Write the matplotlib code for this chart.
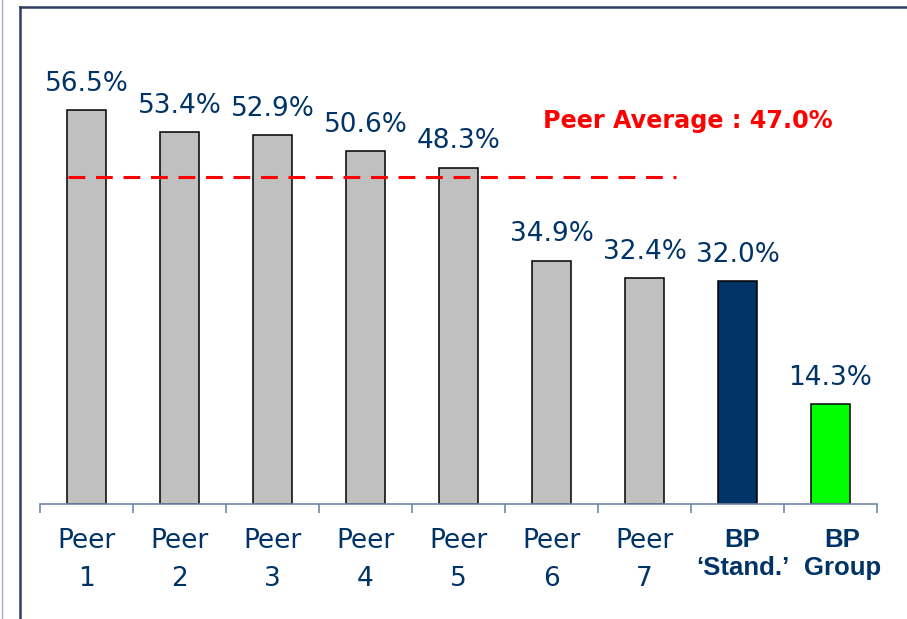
import matplotlib
matplotlib.use("Agg")
import matplotlib.pyplot as plt
from matplotlib.lines import Line2D
from matplotlib.transforms import ScaledTranslation

# data
categories = ["Peer\n1", "Peer\n2", "Peer\n3", "Peer\n4", "Peer\n5",
              "Peer\n6", "Peer\n7", "BP\n\u2018Stand.\u2019", "BP\nGroup"]
values = [56.5, 53.4, 52.9, 50.6, 48.3, 34.9, 32.4, 32.0, 14.3]
bar_colors = ["#c0c0c0"] * 7 + ["#003366", "#00ff00"]
peer_average = 47.0

LABEL_INK = "#003366"
AXIS_INK = "#7088a8"
FRAME_INK = "#2f3d63"

fig = plt.figure(figsize=(9.07, 6.19), dpi=100)
ax = fig.add_axes([40 / 907, 115 / 619, 837 / 907, 418 / 619])

x = list(range(len(values)))
ax.bar(x, values, width=0.42, color=bar_colors, edgecolor="black", linewidth=1.1, zorder=2)

for xi, v in zip(x, values):
    ax.annotate(f"{v:.1f}%", (xi, v), xytext=(0, 14), textcoords="offset points",
                ha="center", va="baseline", fontsize=19, color=LABEL_INK)

# peer average dashed line (spans from first bar to just past Peer 7)
ax.plot([-0.2, 6.34], [peer_average, peer_average], color="red", lw=2.2,
        dashes=(5.5, 3.5), zorder=3)
ax.text(6.47, 55.0, f"Peer Average : {peer_average:.1f}%", ha="center", va="center",
        fontsize=17.2, fontweight="bold", color="red")

ax.set_xlim(-0.5, len(values) - 0.5)
ax.set_ylim(0, 60)
ax.set_yticks([])
for side in ("left", "right", "top"):
    ax.spines[side].set_visible(False)
ax.spines["bottom"].set_color(AXIS_INK)
ax.spines["bottom"].set_linewidth(1.2)

ax.set_xticks(x)
ax.set_xticklabels(categories, fontsize=19, color=LABEL_INK, linespacing=1.6)
ax.tick_params(axis="x", which="major", length=0, pad=17)
ax.set_xticks([i - 0.5 for i in range(len(values) + 1)], minor=True)
ax.tick_params(axis="x", which="minor", length=6.5, width=1.2, color=AXIS_INK, direction="out")
# the two BP labels are bold and sit a little right of their bars
for lab, dx in zip(ax.get_xticklabels()[7:], (5, 12)):
    lab.set_fontfamily("Liberation Sans")
    lab.set_fontweight("bold")
    lab.set_fontsize(18.5)
    lab.set_linespacing(1.25)
    lab.set_transform(lab.get_transform() + ScaledTranslation(dx / 100, 0, fig.dpi_scale_trans))

# slide frame lines
fig.add_artist(Line2D([19.5 / 907, 19.5 / 907], [0, 1 - 7 / 619], color=FRAME_INK, lw=1.8,
                      transform=fig.transFigure))
fig.add_artist(Line2D([19.5 / 907, 1], [1 - 7 / 619, 1 - 7 / 619], color=FRAME_INK, lw=1.8,
                      transform=fig.transFigure))
fig.add_artist(Line2D([2 / 907, 2 / 907], [0, 1], color="#a8b0c0", lw=1.0,
                      transform=fig.transFigure))

fig.savefig("out.png", dpi=100, facecolor="white")
